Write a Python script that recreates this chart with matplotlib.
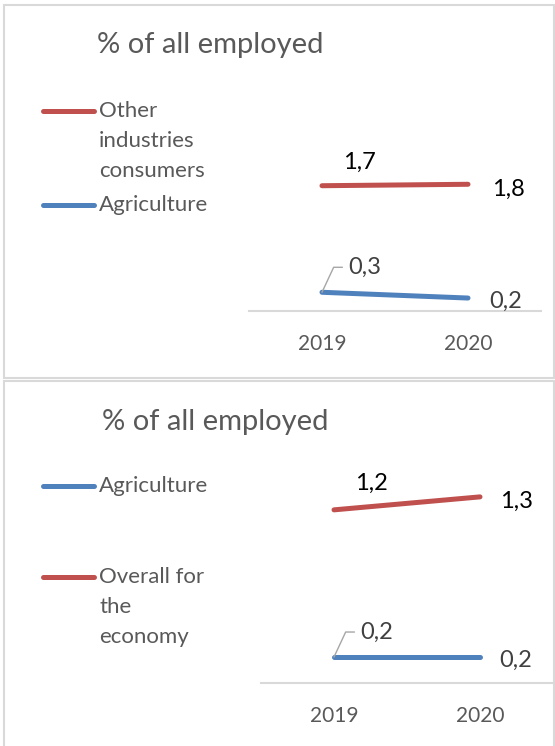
import matplotlib
matplotlib.use('Agg')
import matplotlib.pyplot as plt
from matplotlib.patches import Rectangle
from matplotlib.lines import Line2D

plt.rcParams['font.family'] = ['Lato', 'DejaVu Sans']

W, H = 555, 746

years = ['2019', '2020']
title = '% of all employed'

# top chart
top_other = [1.74, 1.76]
top_agri = [0.26, 0.18]
top_labels_other = ['1,7', '1,8']
top_labels_agri = ['0,3', '0,2']

# bottom chart
bot_agri = [0.18, 0.18]
bot_overall = [1.20, 1.29]
bot_labels_agri = ['0,2', '0,2']
bot_labels_overall = ['1,2', '1,3']

RED = '#C0504D'
BLUE = '#4F81BD'
GREY = '#595959'
LINE = '#D9D9D9'
LW = 3.6

fig = plt.figure(figsize=(W / 100, H / 100), dpi=100)


def fx(px):
    return px / W


def fy(py):
    return 1 - py / H


def add_panel(top, bottom):
    fig.patches.append(Rectangle((fx(3.5), fy(bottom)), fx(554) - fx(3.5), fy(top) - fy(bottom),
                                 transform=fig.transFigure, fill=False, edgecolor=LINE, lw=1.5))


def legend_entry(y, color, lines):
    fig.add_artist(Line2D([fx(43), fx(94)], [fy(y), fy(y)], color=color, lw=LW,
                          solid_capstyle='round', transform=fig.transFigure))
    for i, t in enumerate(lines):
        fig.text(fx(99), fy(y + 30 * i), t, ha='left', va='center', fontsize=16, color=GREY)


def make_axes(x0, x1, y0, y1):
    ax = fig.add_axes([fx(x0), fy(y0), fx(x1) - fx(x0), fy(y1) - fy(y0)])
    ax.set_xlim(-0.5, 1.5)
    ax.set_xticks([0, 1])
    ax.set_xticklabels(years, fontsize=15, color=GREY)
    ax.tick_params(length=0, pad=16.5)
    ax.set_yticks([])
    for s in ['top', 'right', 'left']:
        ax.spines[s].set_visible(False)
    ax.spines['bottom'].set_color(LINE)
    ax.spines['bottom'].set_linewidth(1.5)
    ax.patch.set_alpha(0)
    return ax


def label(ax, x, y, text, dx, dy, color='black', leader=False):
    if leader:
        ax.annotate(text, (x, y), xytext=(dx, -dy), textcoords='offset pixels',
                    ha='left', va='center', fontsize=17, color=color,
                    arrowprops=dict(arrowstyle='-', color='#A6A6A6', lw=1,
                                    connectionstyle='angle,angleA=0,angleB=65,rad=0',
                                    shrinkA=2, shrinkB=0))
    else:
        ax.annotate(text, (x, y), xytext=(dx, -dy), textcoords='offset pixels',
                    ha='center', va='center', fontsize=17, color=color)


# ---- top panel ----
add_panel(5.5, 378.5)
fig.text(fx(97), fy(45), title, ha='left', va='center', fontsize=21, color=GREY)
legend_entry(111, RED, ['Other', 'industries', 'consumers'])
legend_entry(205, BLUE, ['Agriculture'])

ax1 = make_axes(249, 541, 311, 167)
ax1.set_ylim(0, 2.0)
ax1.plot([0, 1], top_other, color=RED, lw=LW, solid_capstyle='round')
ax1.plot([0, 1], top_agri, color=BLUE, lw=LW, solid_capstyle='round')
label(ax1, 0, top_other[0], top_labels_other[0], 37, -23)
label(ax1, 1, top_other[1], top_labels_other[1], 40, 5)
label(ax1, 0, top_agri[0], top_labels_agri[0], 26, -25, color='#404040', leader=True)
label(ax1, 1, top_agri[1], top_labels_agri[1], 38, 3, color='#404040')

# ---- bottom panel ----
add_panel(381.5, 760)
fig.text(fx(102), fy(422), title, ha='left', va='center', fontsize=21, color=GREY)
legend_entry(486, BLUE, ['Agriculture'])
legend_entry(577, RED, ['Overall for', 'the', 'economy'])

ax2 = make_axes(261, 553, 683, 481)
ax2.set_ylim(0, 1.4)
ax2.plot([0, 1], bot_overall, color=RED, lw=LW, solid_capstyle='round')
ax2.plot([0, 1], bot_agri, color=BLUE, lw=LW, solid_capstyle='round')
label(ax2, 0, bot_overall[0], bot_labels_overall[0], 37, -27)
label(ax2, 1, bot_overall[1], bot_labels_overall[1], 37, 4)
label(ax2, 0, bot_agri[0], bot_labels_agri[0], 26, -25, color='#404040', leader=True)
label(ax2, 1, bot_agri[1], bot_labels_agri[1], 36, 3, color='#404040')

fig.savefig('out.png', dpi=100)
